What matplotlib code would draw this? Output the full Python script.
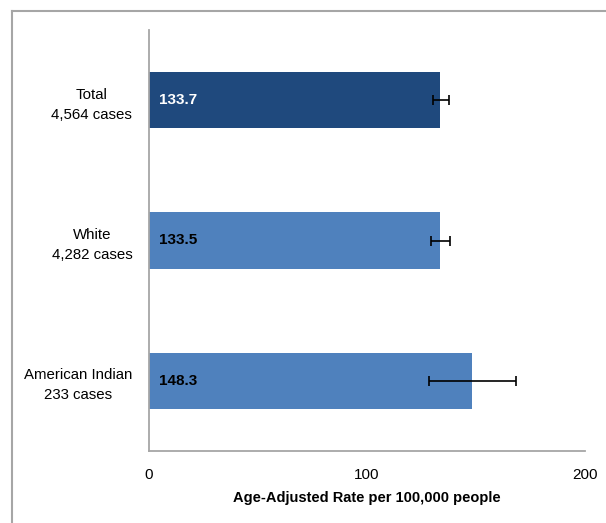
import numpy as np
import matplotlib
matplotlib.use("Agg")
import matplotlib.pyplot as plt
from matplotlib.lines import Line2D

# data
groups = ["Total\n4,564 cases", "White\n4,282 cases", "American Indian\n233 cases"]
rates = [133.7, 133.5, 148.3]
ci_low = [130.1, 129.4, 128.3]
ci_high = [137.7, 138.1, 168.4]
bar_colors = ["#1F497D", "#4F81BD", "#4F81BD"]
label_colors = ["white", "black", "black"]
x_ticks = [0, 100, 200]

plt.rcParams['font.family'] = ['Liberation Sans', 'DejaVu Sans']

fig = plt.figure(figsize=(6.06, 5.23), dpi=100)
ax = fig.add_axes([149/606, 1-451/523, (585-149)/606, (451-30)/523])

y = np.arange(len(groups))
rates_a = np.array(rates)
err = [rates_a - np.array(ci_low), np.array(ci_high) - rates_a]

ax.barh(y, rates, height=0.4, color=bar_colors, zorder=2)
ax.errorbar(rates, y, xerr=err, fmt='none', ecolor='black', elinewidth=1.2,
            capsize=3.5, capthick=1.2, zorder=3)

for i in range(len(groups)):
    ax.text(4.6, y[i], f"{rates[i]:.1f}", va='center', ha='left',
            fontsize=11, fontweight='bold', color=label_colors[i])

ax.set_xlim(0, 200)
ax.set_ylim(2.5, -0.5)
ax.set_xticks(x_ticks)
ax.set_xticklabels([str(t) for t in x_ticks], fontsize=11)
ax.set_yticks(y)
ax.set_yticklabels(groups, fontsize=10.8, multialignment='center', linespacing=1.55)
ax.tick_params(axis='both', length=0)
ax.tick_params(axis='y', pad=12)
ax.tick_params(axis='x', pad=12)
ax.set_xlabel("Age-Adjusted Rate per 100,000 people", fontsize=10.5,
              fontweight='bold', labelpad=7)

for s in ['top', 'right']:
    ax.spines[s].set_visible(False)
for s in ['left', 'bottom']:
    ax.spines[s].set_color('#A6A6A6')
    ax.spines[s].set_linewidth(1.3)

# outer chart border (only left and top edges show)
fig.add_artist(Line2D([11.5/606, 11.5/606], [0, 1-10.5/523], transform=fig.transFigure,
                      color='#A6A6A6', lw=1.5))
fig.add_artist(Line2D([11.5/606, 1], [1-10.5/523, 1-10.5/523], transform=fig.transFigure,
                      color='#A6A6A6', lw=1.5))

fig.savefig("out.png", dpi=100)
